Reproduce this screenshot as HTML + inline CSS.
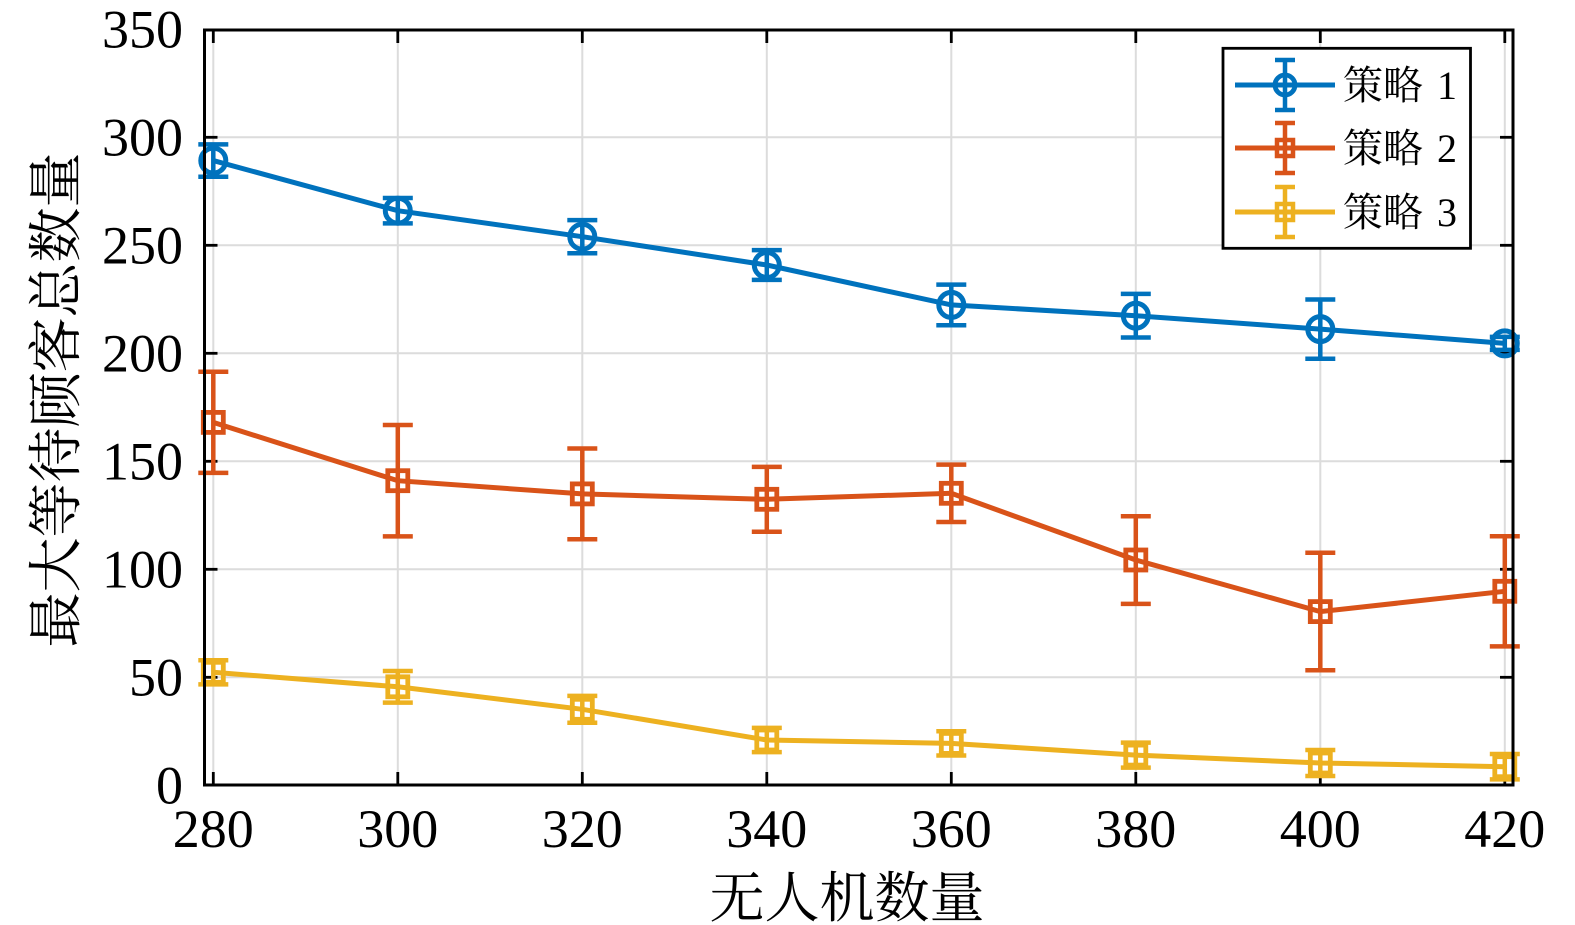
<!DOCTYPE html>
<html>
<head>
<meta charset="utf-8">
<style>
html,body{margin:0;padding:0;background:#fff;}
svg{display:block;}
.tk{font-family:"Liberation Serif","DejaVu Serif",serif;font-size:54px;fill:#000;}
.cj{font-family:"Liberation Serif","Noto Serif CJK SC","Noto Sans CJK SC",serif;fill:#000;}
</style>
</head>
<body>
<svg width="1575" height="925" viewBox="0 0 1575 925" xmlns="http://www.w3.org/2000/svg">
<rect x="0" y="0" width="1575" height="925" fill="#fff"/>
<!-- grid -->
<g stroke="#dcdcdc" stroke-width="2">
<line x1="213.3" y1="30" x2="213.3" y2="785"/>
<line x1="397.8" y1="30" x2="397.8" y2="785"/>
<line x1="582.3" y1="30" x2="582.3" y2="785"/>
<line x1="766.8" y1="30" x2="766.8" y2="785"/>
<line x1="951.3" y1="30" x2="951.3" y2="785"/>
<line x1="1135.8" y1="30" x2="1135.8" y2="785"/>
<line x1="1320.3" y1="30" x2="1320.3" y2="785"/>
<line x1="1504.8" y1="30" x2="1504.8" y2="785"/>
<line x1="204.5" y1="677.3" x2="1513" y2="677.3"/>
<line x1="204.5" y1="569.3" x2="1513" y2="569.3"/>
<line x1="204.5" y1="461.3" x2="1513" y2="461.3"/>
<line x1="204.5" y1="353.3" x2="1513" y2="353.3"/>
<line x1="204.5" y1="245.3" x2="1513" y2="245.3"/>
<line x1="204.5" y1="137.3" x2="1513" y2="137.3"/>
</g>
<!-- ticks -->
<g stroke="#000" stroke-width="2.8">
<line x1="213.3" y1="785" x2="213.3" y2="772"/><line x1="213.3" y1="30" x2="213.3" y2="43"/>
<line x1="397.8" y1="785" x2="397.8" y2="772"/><line x1="397.8" y1="30" x2="397.8" y2="43"/>
<line x1="582.3" y1="785" x2="582.3" y2="772"/><line x1="582.3" y1="30" x2="582.3" y2="43"/>
<line x1="766.8" y1="785" x2="766.8" y2="772"/><line x1="766.8" y1="30" x2="766.8" y2="43"/>
<line x1="951.3" y1="785" x2="951.3" y2="772"/><line x1="951.3" y1="30" x2="951.3" y2="43"/>
<line x1="1135.8" y1="785" x2="1135.8" y2="772"/><line x1="1135.8" y1="30" x2="1135.8" y2="43"/>
<line x1="1320.3" y1="785" x2="1320.3" y2="772"/><line x1="1320.3" y1="30" x2="1320.3" y2="43"/>
<line x1="1504.8" y1="785" x2="1504.8" y2="772"/><line x1="1504.8" y1="30" x2="1504.8" y2="43"/>
<line x1="204.5" y1="677.3" x2="217.5" y2="677.3"/><line x1="1513" y1="677.3" x2="1500" y2="677.3"/>
<line x1="204.5" y1="569.3" x2="217.5" y2="569.3"/><line x1="1513" y1="569.3" x2="1500" y2="569.3"/>
<line x1="204.5" y1="461.3" x2="217.5" y2="461.3"/><line x1="1513" y1="461.3" x2="1500" y2="461.3"/>
<line x1="204.5" y1="353.3" x2="217.5" y2="353.3"/><line x1="1513" y1="353.3" x2="1500" y2="353.3"/>
<line x1="204.5" y1="245.3" x2="217.5" y2="245.3"/><line x1="1513" y1="245.3" x2="1500" y2="245.3"/>
<line x1="204.5" y1="137.3" x2="217.5" y2="137.3"/><line x1="1513" y1="137.3" x2="1500" y2="137.3"/>
</g>

<!-- Series 1 blue -->
<g stroke="#0072BD" fill="none">
<polyline stroke-width="5" points="213.3,160.6 397.8,210.7 582.3,236.7 766.8,265.0 951.3,304.9 1135.8,315.7 1320.3,329.1 1504.8,343.4"/>
<g stroke-width="4.5">
<path d="M213.3,144.4V176.8M198.3,144.4H228.3M198.3,176.8H228.3"/>
<path d="M397.8,198.0V223.4M382.8,198.0H412.8M382.8,223.4H412.8"/>
<path d="M582.3,220.1V253.3M567.3,220.1H597.3M567.3,253.3H597.3"/>
<path d="M766.8,250.1V279.9M751.8,250.1H781.8M751.8,279.9H781.8"/>
<path d="M951.3,284.6V325.2M936.3,284.6H966.3M936.3,325.2H966.3"/>
<path d="M1135.8,293.9V337.5M1120.8,293.9H1150.8M1120.8,337.5H1150.8"/>
<path d="M1320.3,299.5V358.7M1305.3,299.5H1335.3M1305.3,358.7H1335.3"/>
<path d="M1504.8,336.9V349.9M1489.8,336.9H1519.8M1489.8,349.9H1519.8"/>
</g>
<g stroke-width="5">
<circle cx="213.3" cy="160.6" r="12.5"/>
<circle cx="397.8" cy="210.7" r="12.5"/>
<circle cx="582.3" cy="236.7" r="12.5"/>
<circle cx="766.8" cy="265.0" r="12.5"/>
<circle cx="951.3" cy="304.9" r="12.5"/>
<circle cx="1135.8" cy="315.7" r="12.5"/>
<circle cx="1320.3" cy="329.1" r="12.5"/>
<circle cx="1504.8" cy="343.4" r="12.5"/>
</g>
</g>

<!-- Series 2 orange -->
<g stroke="#D95319" fill="none">
<polyline stroke-width="5" points="213.3,422.4 397.8,480.7 582.3,493.9 766.8,499.3 951.3,493.3 1135.8,560.0 1320.3,611.6 1504.8,591.3"/>
<g stroke-width="4.5">
<path d="M213.3,371.8V472.9M198.3,371.8H228.3M198.3,472.9H228.3"/>
<path d="M397.8,425.0V536.4M382.8,425.0H412.8M382.8,536.4H412.8"/>
<path d="M582.3,448.5V539.3M567.3,448.5H597.3M567.3,539.3H597.3"/>
<path d="M766.8,466.9V531.7M751.8,466.9H781.8M751.8,531.7H781.8"/>
<path d="M951.3,464.6V522.0M936.3,464.6H966.3M936.3,522.0H966.3"/>
<path d="M1135.8,516.2V603.9M1120.8,516.2H1150.8M1120.8,603.9H1150.8"/>
<path d="M1320.3,552.8V670.3M1305.3,552.8H1335.3M1305.3,670.3H1335.3"/>
<path d="M1504.8,536.2V646.4M1489.8,536.2H1519.8M1489.8,646.4H1519.8"/>
</g>
<g stroke-width="4.8">
<rect x="203.3" y="412.4" width="20" height="20"/>
<rect x="387.8" y="470.7" width="20" height="20"/>
<rect x="572.3" y="483.9" width="20" height="20"/>
<rect x="756.8" y="489.3" width="20" height="20"/>
<rect x="941.3" y="483.3" width="20" height="20"/>
<rect x="1125.8" y="550.0" width="20" height="20"/>
<rect x="1310.3" y="601.6" width="20" height="20"/>
<rect x="1494.8" y="581.3" width="20" height="20"/>
</g>
</g>

<!-- Series 3 yellow -->
<g stroke="#EDB120" fill="none">
<polyline stroke-width="5" points="213.3,672.3 397.8,686.8 582.3,709.3 766.8,740.0 951.3,743.4 1135.8,755.1 1320.3,763.0 1504.8,766.7"/>
<g stroke-width="4.5">
<path d="M213.3,660.2V684.4M198.3,660.2H228.3M198.3,684.4H228.3"/>
<path d="M397.8,671.0V702.6M382.8,671.0H412.8M382.8,702.6H412.8"/>
<path d="M582.3,695.9V722.7M567.3,695.9H597.3M567.3,722.7H597.3"/>
<path d="M766.8,727.9V752.1M751.8,727.9H781.8M751.8,752.1H781.8"/>
<path d="M951.3,731.3V755.5M936.3,731.3H966.3M936.3,755.5H966.3"/>
<path d="M1135.8,742.6V767.6M1120.8,742.6H1150.8M1120.8,767.6H1150.8"/>
<path d="M1320.3,750.0V776.0M1305.3,750.0H1335.3M1305.3,776.0H1335.3"/>
<path d="M1504.8,754.0V779.4M1489.8,754.0H1519.8M1489.8,779.4H1519.8"/>
</g>
<g stroke-width="4.8">
<rect x="203.3" y="662.3" width="20" height="20"/>
<rect x="387.8" y="676.8" width="20" height="20"/>
<rect x="572.3" y="699.3" width="20" height="20"/>
<rect x="756.8" y="730.0" width="20" height="20"/>
<rect x="941.3" y="733.4" width="20" height="20"/>
<rect x="1125.8" y="745.1" width="20" height="20"/>
<rect x="1310.3" y="753.0" width="20" height="20"/>
<rect x="1494.8" y="756.7" width="20" height="20"/>
</g>
</g>

<!-- axes box -->
<rect x="204.5" y="30" width="1308.5" height="755" fill="none" stroke="#000" stroke-width="3"/>

<!-- y tick labels -->
<g class="tk" text-anchor="end">
<text x="183" y="803.5">0</text>
<text x="183" y="695.5">50</text>
<text x="183" y="587.5">100</text>
<text x="183" y="479.5">150</text>
<text x="183" y="371.5">200</text>
<text x="183" y="263.5">250</text>
<text x="183" y="155.5">300</text>
<text x="183" y="47.5">350</text>
</g>
<!-- x tick labels -->
<g class="tk" text-anchor="middle">
<text x="213.3" y="847">280</text>
<text x="397.8" y="847">300</text>
<text x="582.3" y="847">320</text>
<text x="766.8" y="847">340</text>
<text x="951.3" y="847">360</text>
<text x="1135.8" y="847">380</text>
<text x="1320.3" y="847">400</text>
<text x="1504.8" y="847">420</text>
</g>

<!-- axis labels -->
<text class="cj" x="847" y="917" font-size="55" text-anchor="middle">无人机数量</text>
<text class="cj" transform="translate(75,400) rotate(-90)" x="0" y="0" font-size="55" text-anchor="middle">最大等待顾客总数量</text>

<!-- legend -->
<rect x="1223" y="48.3" width="247.5" height="200" fill="#fff" stroke="#000" stroke-width="2.8"/>
<g fill="none">
<g stroke="#0072BD">
<line x1="1235" y1="85" x2="1335" y2="85" stroke-width="5"/>
<path d="M1285,60V110M1275,60H1295M1275,110H1295" stroke-width="4.5"/>
<circle cx="1285" cy="85" r="10" stroke-width="4.8"/>
</g>
<g stroke="#D95319">
<line x1="1235" y1="148" x2="1335" y2="148" stroke-width="5"/>
<path d="M1285,123V173M1275,123H1295M1275,173H1295" stroke-width="4.5"/>
<rect x="1277" y="140" width="16" height="16" stroke-width="4.5"/>
</g>
<g stroke="#EDB120">
<line x1="1235" y1="212" x2="1335" y2="212" stroke-width="5"/>
<path d="M1285,187V237M1275,187H1295M1275,237H1295" stroke-width="4.5"/>
<rect x="1277" y="204" width="16" height="16" stroke-width="4.5"/>
</g>
</g>
<g class="cj" font-size="40">
<text x="1343" y="99">策略</text>
<text x="1343" y="162">策略</text>
<text x="1343" y="226">策略</text>
</g>
<g class="tk" style="font-size:40px" text-anchor="middle">
<text x="1447" y="99">1</text>
<text x="1447" y="162">2</text>
<text x="1447" y="226">3</text>
</g>
</svg>
</body>
</html>
